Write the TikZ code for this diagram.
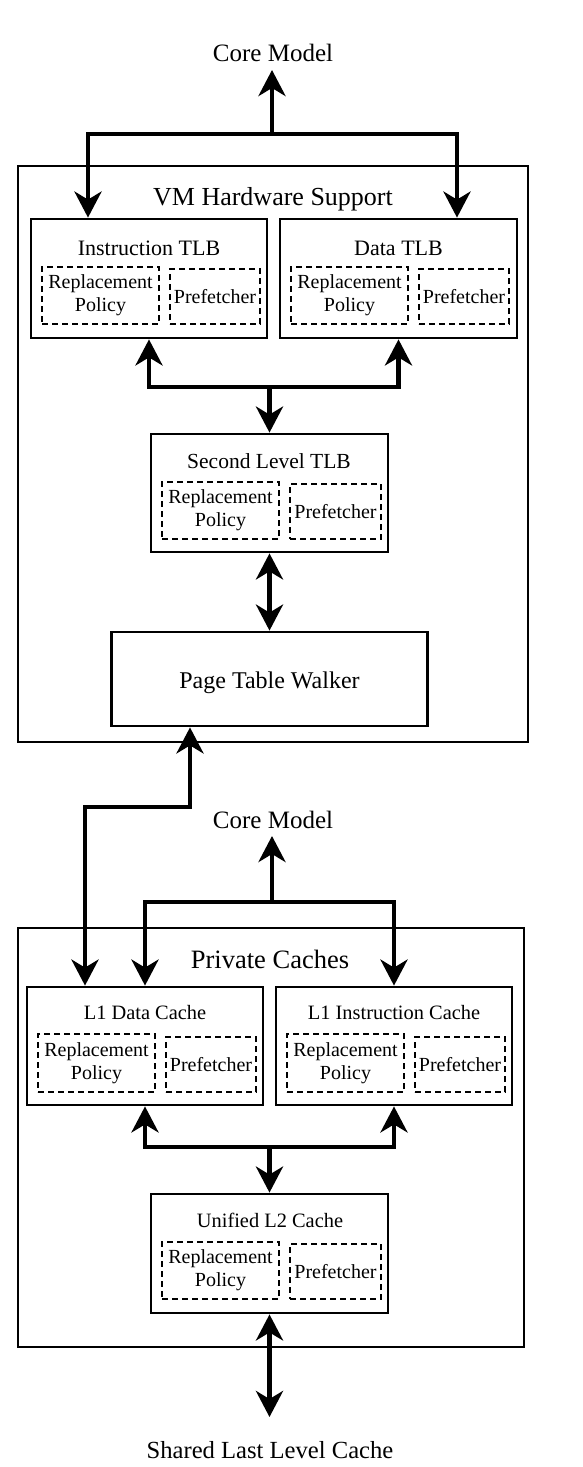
\documentclass[tikz,border=0pt]{standalone}
\usepackage{fontspec}
\setmainfont{Liberation Serif}
\usetikzlibrary{arrows.meta}
\tikzset{
  Big/.tip={Stealth[length=26pt,width=27pt,inset=8pt]},
  arr/.style={line width=4.5pt, line join=miter},
  outerbox/.style={draw, line width=2.2pt, rectangle},
  unitbox/.style={draw, line width=2.8pt, rectangle},
  dbox/.style={draw, line width=2.5pt, dash pattern=on 6pt off 4pt, rectangle, inner sep=0pt, align=center, font=\fontsize{20}{23}\selectfont},
  lbl/.style={anchor=base, inner sep=0pt},
}
\begin{document}
\begin{tikzpicture}[x=1pt,y=-1pt]
\useasboundingbox[fill=white] (0,0) rectangle (582,1467);

% ---------------- VM Hardware Support ----------------
\node[lbl, font=\fontsize{25}{29}\selectfont] (cm1) at (273,61) {Core Model};
\node[outerbox, minimum width=510pt, minimum height=576pt] (vm) at (273,454) {};
\node[lbl, font=\fontsize{26}{30}\selectfont] (vmt) at (273,205) {VM Hardware Support};

\node[unitbox, minimum width=236pt, minimum height=119pt] (itlb) at (149,278.5) {};
\node[lbl, font=\fontsize{22}{26}\selectfont] (itlbt) at (149,255) {Instruction TLB};
\node[dbox, minimum width=117pt, minimum height=57pt] (itlbr) at (100.5,295.5) {Replacement\\Policy};
\node[dbox, minimum width=90pt, minimum height=55pt] (itlbp) at (215,296.5) {Prefetcher};

\node[unitbox, minimum width=237pt, minimum height=119pt] (dtlb) at (398.5,278.5) {};
\node[lbl, font=\fontsize{22}{26}\selectfont] (dtlbt) at (398.5,255) {Data TLB};
\node[dbox, minimum width=117pt, minimum height=57pt] (dtlbr) at (349.5,295.5) {Replacement\\Policy};
\node[dbox, minimum width=90pt, minimum height=55pt] (dtlbp) at (464,296.5) {Prefetcher};

\node[unitbox, minimum width=237pt, minimum height=118pt] (sl) at (269.5,493) {};
\node[lbl, font=\fontsize{21.5}{25}\selectfont] (slt) at (269,468) {Second Level TLB};
\node[dbox, minimum width=117pt, minimum height=57pt] (slr) at (220.5,510.5) {Replacement\\Policy};
\node[dbox, minimum width=91pt, minimum height=55pt] (slp) at (335.5,511.5) {Prefetcher};

\node[unitbox, minimum width=316pt, minimum height=94pt] (ptw) at (269.5,679) {};
\node[lbl, font=\fontsize{24}{28}\selectfont] (ptwt) at (269.5,688) {Page Table Walker};

% ---------------- Private Caches ----------------
\node[lbl, font=\fontsize{25}{29}\selectfont] (cm2) at (273,828) {Core Model};
\node[outerbox, minimum width=506pt, minimum height=419pt] (pc) at (271,1137.5) {};
\node[lbl, font=\fontsize{26.5}{30}\selectfont] (pct) at (270,968) {Private Caches};

\node[unitbox, minimum width=236pt, minimum height=118pt] (l1d) at (145,1046) {};
\node[lbl, font=\fontsize{20.4}{24}\selectfont] (l1dt) at (145,1019) {L1 Data Cache};
\node[dbox, minimum width=117pt, minimum height=58pt] (l1dr) at (96.5,1063) {Replacement\\Policy};
\node[dbox, minimum width=90pt, minimum height=55pt] (l1dp) at (211,1064.5) {Prefetcher};

\node[unitbox, minimum width=236pt, minimum height=118pt] (l1i) at (394,1046) {};
\node[lbl, font=\fontsize{20.4}{24}\selectfont] (l1it) at (394,1019) {L1 Instruction Cache};
\node[dbox, minimum width=117pt, minimum height=58pt] (l1ir) at (345.5,1063) {Replacement\\Policy};
\node[dbox, minimum width=90pt, minimum height=55pt] (l1ip) at (460,1064.5) {Prefetcher};

\node[unitbox, minimum width=237pt, minimum height=119pt] (l2) at (269.5,1253.5) {};
\node[lbl, font=\fontsize{20.4}{24}\selectfont] (l2t) at (270,1227) {Unified L2 Cache};
\node[dbox, minimum width=117pt, minimum height=57pt] (l2r) at (220.5,1270.5) {Replacement\\Policy};
\node[dbox, minimum width=91pt, minimum height=55pt] (l2p) at (335.5,1271.5) {Prefetcher};

\node[lbl, font=\fontsize{24.6}{28}\selectfont] (llc) at (270,1458) {Shared Last Level Cache};

% ---------------- connectors ----------------
\coordinate (j1) at (272,134);
\coordinate (t1) at (272,70);
\draw[arr,-{Big}] (j1) -- (t1);
\draw[arr,-{Big}] (j1) -| ([xshift=-61pt]itlb.north);
\draw[arr,-{Big}] (j1) -| ([xshift=58.5pt]dtlb.north);

\coordinate (j2) at (269.5,387);
\draw[arr,{Big}-{Big}] (itlb.south) |- (j2) -| (dtlb.south);
\draw[arr,-{Big}] (j2) -- (sl.north);

\draw[arr,{Big}-{Big}] (sl.south) -- (ptw.north);

\coordinate (j3) at (137,807);
\draw[arr,{Big}-{Big}] ([xshift=-79.5pt]ptw.south) |- (j3) -| ([xshift=-60pt]l1d.north);

\coordinate (j4) at (272,902);
\coordinate (t4) at (272,836);
\draw[arr,-{Big}] (j4) -- (t4);
\draw[arr,-{Big}] (j4) -| (l1d.north);
\draw[arr,-{Big}] (j4) -| (l1i.north);

\coordinate (j5) at (269.5,1147);
\draw[arr,{Big}-{Big}] (l1d.south) |- (j5) -| (l1i.south);
\draw[arr,-{Big}] (j5) -- (l2.north);

\coordinate (t5) at (269.5,1417);
\draw[arr,{Big}-{Big}] (l2.south) -- (t5);
\end{tikzpicture}
\end{document}
